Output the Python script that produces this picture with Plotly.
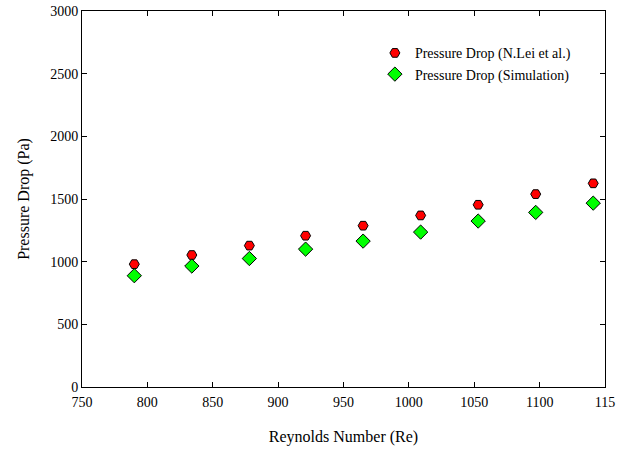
import plotly.graph_objects as go

# Reynolds number of each run
reynolds = [790, 834, 878, 921, 965, 1009, 1053, 1097, 1141]
# Measured pressure drop (N.Lei et al.), Pa
dp_lei = [980, 1053, 1128, 1207, 1287, 1369, 1454, 1539, 1625]
# Simulated pressure drop, Pa
dp_sim = [888, 965, 1025, 1100, 1164, 1236, 1324, 1393, 1467]

x_ticks = [750, 800, 850, 900, 950, 1000, 1050, 1100, 1150]
x_ticktext = ["750", "800", "850", "900", "950", "1000", "1050", "1100", "115"]
y_ticks = [0, 500, 1000, 1500, 2000, 2500, 3000]

font_family = "Liberation Serif"

fig = go.Figure()
fig.add_trace(go.Scatter(
    x=reynolds, y=dp_lei, mode="markers",
    name="Pressure Drop (N.Lei et al.)",
    marker=dict(symbol="hexagon2", size=10, color="#ff0000",
                line=dict(color="black", width=1)),
))
fig.add_trace(go.Scatter(
    x=reynolds, y=dp_sim, mode="markers",
    name="Pressure Drop (Simulation)",
    marker=dict(symbol="diamond", size=11, color="#00ff00",
                line=dict(color="black", width=1)),
))

axis_common = dict(
    showgrid=False, zeroline=False, showline=True, linecolor="black",
    linewidth=1, mirror="ticks", ticks="inside", ticklen=5,
    tickcolor="black", automargin=False,
    tickfont=dict(family=font_family, size=14, color="black"),
)

fig.update_layout(
    width=623, height=450,
    margin=dict(l=82, r=18, t=11, b=63, autoexpand=False),
    paper_bgcolor="white", plot_bgcolor="white",
    font=dict(family=font_family, color="black"),
    showlegend=True,
    legend=dict(x=0.56, y=0.93, xanchor="left", yanchor="top",
                bgcolor="rgba(0,0,0,0)", borderwidth=0,
                font=dict(family=font_family, size=14, color="black"),
                itemsizing="trace", tracegroupgap=0),
    xaxis=dict(range=[750, 1150], tickvals=x_ticks, ticktext=x_ticktext,
               ticklabelstandoff=2,
               title=dict(text="Reynolds Number (Re)", standoff=22,
                          font=dict(family=font_family, size=16)),
               **axis_common),
    yaxis=dict(range=[0, 3000], tickvals=y_ticks,
               title=dict(text="Pressure Drop (Pa)", standoff=16,
                          font=dict(family=font_family, size=16)),
               **axis_common),
)

fig.write_html("out.html")
